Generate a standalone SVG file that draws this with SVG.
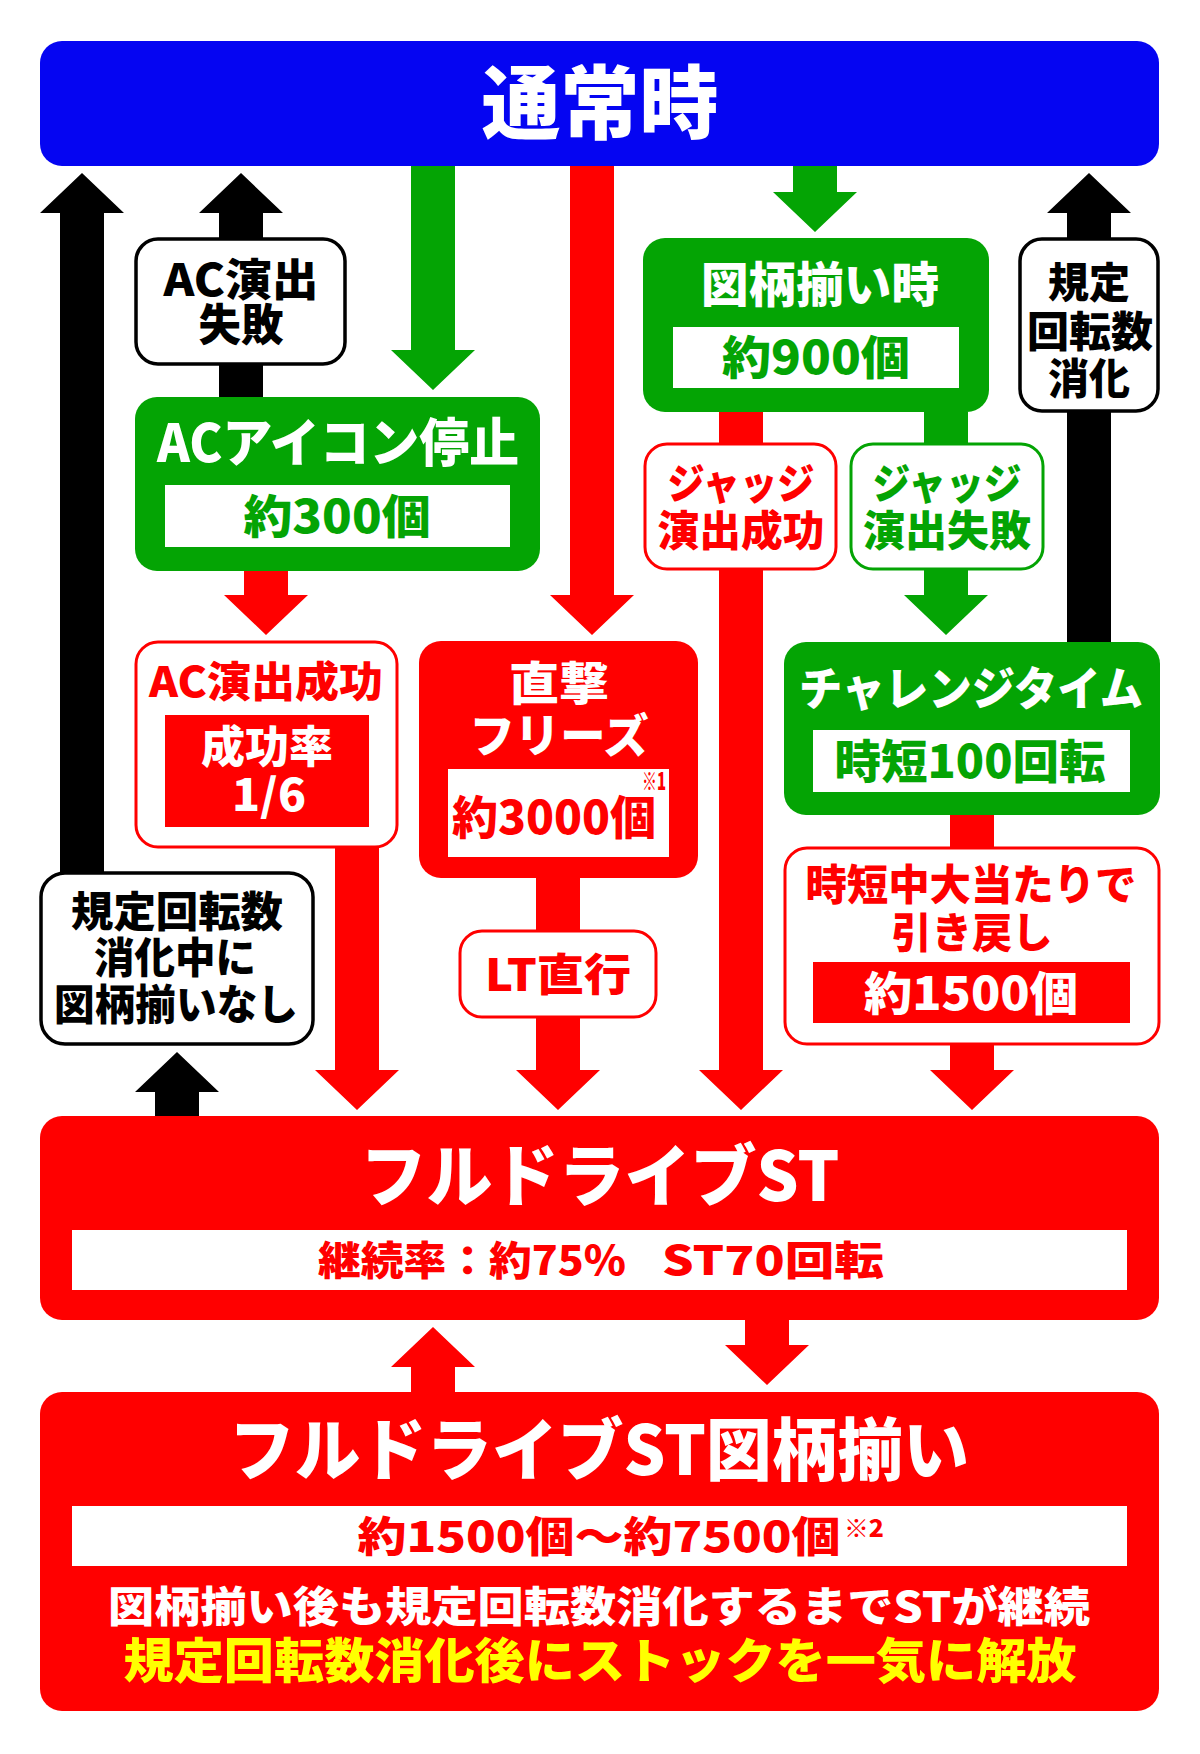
<svg xmlns="http://www.w3.org/2000/svg" width="1200" height="1754" viewBox="0 0 1200 1754">
<style>
text{font-family:"Noto Sans CJK JP","Noto Sans CJK SC",sans-serif;font-weight:900;text-anchor:middle}
.w{fill:#ffffff}.r{fill:#ff0000}.g{fill:#04a404}.k{fill:#000000}.y{fill:#ffff00}
.blue{fill:#0505f2}
.gbox{fill:#04a404}.rbox{fill:#ff0000}
.kout{fill:#ffffff;stroke:#000000;stroke-width:3.5}
.rout{fill:#ffffff;stroke:#ff0000;stroke-width:3}
.gout{fill:#ffffff;stroke:#04a404;stroke-width:3}
.ca{fill:#000000}.cr{fill:#ff0000}.cg{fill:#04a404}
</style>
<rect x="0" y="0" width="1200" height="1754" fill="#ffffff"/>

<g id="connectors">
  <polygon class="ca" points="60,872 104,872 104,213 124,213 82,173 40,213 60,213"/>
  <polygon class="ca" points="219,397 263,397 263,213 283,213 241,173 199,213 219,213"/>
  <polygon class="cg" points="411,166 455,166 455,350 475,350 433,390 391,350 411,350"/>
  <polygon class="cr" points="570,166 614,166 614,595 634,595 592,635 550,595 570,595"/>
  <polygon class="cg" points="793,166 837,166 837,192 857,192 815,232 773,192 793,192"/>
  <polygon class="ca" points="1067,642 1111,642 1111,213 1131,213 1089,173 1047,213 1067,213"/>
  <polygon class="cr" points="244,571 288,571 288,595 308,595 266,635 224,595 244,595"/>
  <polygon class="cr" points="719,412 763,412 763,1070 783,1070 741,1110 699,1070 719,1070"/>
  <polygon class="cg" points="924,412 968,412 968,595 988,595 946,635 904,595 924,595"/>
  <polygon class="cr" points="335,848 379,848 379,1070 399,1070 357,1110 315,1070 335,1070"/>
  <polygon class="cr" points="536,878 580,878 580,1070 600,1070 558,1110 516,1070 536,1070"/>
  <polygon class="cr" points="950,815 994,815 994,1070 1014,1070 972,1110 930,1070 950,1070"/>
  <polygon class="ca" points="155,1116 199,1116 199,1092 219,1092 177,1052 135,1092 155,1092"/>
  <polygon class="cr" points="411,1392 455,1392 455,1367 475,1367 433,1327 391,1367 411,1367"/>
  <polygon class="cr" points="745,1320 789,1320 789,1345 809,1345 767,1385 725,1345 745,1345"/>
</g>

<g id="node-normal">
  <rect class="blue" x="40" y="41" width="1119" height="125" rx="22"/>
  <text class="w" x="600" y="132" font-size="80" textLength="237" lengthAdjust="spacingAndGlyphs">通常時</text>
</g>

<g id="label-ac-fail">
  <rect class="kout" x="136" y="239" width="209" height="125" rx="22"/>
  <text class="k" font-size="44"><tspan x="241" y="296" textLength="155" lengthAdjust="spacingAndGlyphs">AC演出</tspan><tspan x="241" y="341" textLength="85" lengthAdjust="spacingAndGlyphs">失敗</tspan></text>
</g>

<g id="node-ac-icon">
  <rect class="gbox" x="135" y="397" width="405" height="174" rx="22"/>
  <text class="w" x="338" y="462" font-size="52" textLength="362" lengthAdjust="spacingAndGlyphs">ACアイコン停止</text>
  <rect class="w" x="165" y="485" width="345" height="62"/>
  <text class="g" x="337" y="533" font-size="46" textLength="187" lengthAdjust="spacingAndGlyphs">約300個</text>
</g>

<g id="node-ac-success">
  <rect class="rout" x="136" y="642" width="261" height="205" rx="22"/>
  <text class="r" x="266" y="697" font-size="42" textLength="234" lengthAdjust="spacingAndGlyphs">AC演出成功</text>
  <rect class="rbox" x="165" y="715" width="204" height="112"/>
  <text class="w" font-size="44"><tspan x="267" y="763" textLength="132" lengthAdjust="spacingAndGlyphs">成功率</tspan><tspan x="269" y="811" textLength="74" lengthAdjust="spacingAndGlyphs">1/6</tspan></text>
</g>

<g id="node-freeze">
  <rect class="rbox" x="419" y="641" width="279" height="237" rx="22"/>
  <text class="w" font-size="46"><tspan x="559" y="700" textLength="100" lengthAdjust="spacingAndGlyphs">直撃</tspan><tspan x="559" y="752" textLength="179" lengthAdjust="spacingAndGlyphs">フリーズ</tspan></text>
  <rect class="w" x="448" y="769" width="221" height="88"/>
  <text class="r" x="554" y="834" font-size="46" textLength="204" lengthAdjust="spacingAndGlyphs">約3000個</text>
  <text class="r" x="654" y="790" font-size="24" textLength="24" lengthAdjust="spacingAndGlyphs">※1</text>
</g>

<g id="label-lt">
  <rect class="rout" x="460" y="931" width="196" height="86" rx="22"/>
  <text class="r" x="558" y="991" font-size="44" textLength="146" lengthAdjust="spacingAndGlyphs">LT直行</text>
</g>

<g id="node-zugara">
  <rect class="gbox" x="643" y="238" width="346" height="174" rx="22"/>
  <text class="w" x="820" y="302" font-size="48" textLength="238" lengthAdjust="spacingAndGlyphs">図柄揃い時</text>
  <rect class="w" x="673" y="327" width="286" height="61"/>
  <text class="g" x="816" y="374" font-size="46" textLength="188" lengthAdjust="spacingAndGlyphs">約900個</text>
</g>

<g id="label-judge-success">
  <rect class="rout" x="645" y="444" width="191" height="125" rx="22"/>
  <text class="r" font-size="42"><tspan x="741" y="499" textLength="147" lengthAdjust="spacingAndGlyphs">ジャッジ</tspan><tspan x="741" y="546" textLength="167" lengthAdjust="spacingAndGlyphs">演出成功</tspan></text>
</g>

<g id="label-judge-fail">
  <rect class="gout" x="851" y="444" width="192" height="125" rx="22"/>
  <text class="g" font-size="42"><tspan x="947" y="499" textLength="149" lengthAdjust="spacingAndGlyphs">ジャッジ</tspan><tspan x="947" y="546" textLength="168" lengthAdjust="spacingAndGlyphs">演出失敗</tspan></text>
</g>

<g id="label-rotation">
  <rect class="kout" x="1020" y="239" width="138" height="172" rx="22"/>
  <text class="k" font-size="42"><tspan x="1089" y="298" textLength="82" lengthAdjust="spacingAndGlyphs">規定</tspan><tspan x="1090" y="347" textLength="126" lengthAdjust="spacingAndGlyphs">回転数</tspan><tspan x="1089" y="394" textLength="82" lengthAdjust="spacingAndGlyphs">消化</tspan></text>
</g>

<g id="node-challenge">
  <rect class="gbox" x="784" y="642" width="376" height="173" rx="22"/>
  <text class="w" x="971" y="705" font-size="46" textLength="344" lengthAdjust="spacingAndGlyphs">チャレンジタイム</text>
  <rect class="w" x="813" y="730" width="317" height="62"/>
  <text class="g" x="970" y="778" font-size="46" textLength="271" lengthAdjust="spacingAndGlyphs">時短100回転</text>
</g>

<g id="node-hikimodoshi">
  <rect class="rout" x="785" y="848" width="374" height="196" rx="22"/>
  <text class="r" font-size="42"><tspan x="971" y="900" textLength="331" lengthAdjust="spacingAndGlyphs">時短中大当たりで</tspan><tspan x="972" y="948" textLength="161" lengthAdjust="spacingAndGlyphs">引き戻し</tspan></text>
  <rect class="rbox" x="813" y="962" width="317" height="61"/>
  <text class="w" x="971" y="1010" font-size="46" textLength="214" lengthAdjust="spacingAndGlyphs">約1500個</text>
</g>

<g id="label-no-zugara">
  <rect class="kout" x="41" y="873" width="272" height="171" rx="24"/>
  <text class="k" font-size="42"><tspan x="177" y="927" textLength="212" lengthAdjust="spacingAndGlyphs">規定回転数</tspan><tspan x="175" y="973" textLength="162" lengthAdjust="spacingAndGlyphs">消化中に</tspan><tspan x="176" y="1020" textLength="244" lengthAdjust="spacingAndGlyphs">図柄揃いなし</tspan></text>
</g>

<g id="node-st">
  <rect class="rbox" x="40" y="1116" width="1119" height="204" rx="22"/>
  <text class="w" x="600" y="1201" font-size="68" textLength="479" lengthAdjust="spacingAndGlyphs">フルドライブST</text>
  <rect class="w" x="72" y="1230" width="1055" height="60"/>
  <text class="r" font-size="40"><tspan x="472" y="1275" textLength="308" lengthAdjust="spacingAndGlyphs">継続率：約75%</tspan><tspan x="773" y="1275" textLength="222" lengthAdjust="spacingAndGlyphs">ST70回転</tspan></text>
</g>

<g id="node-st-zugara">
  <rect class="rbox" x="40" y="1392" width="1119" height="319" rx="22"/>
  <text class="w" x="599" y="1475" font-size="68" textLength="740" lengthAdjust="spacingAndGlyphs">フルドライブST図柄揃い</text>
  <rect class="w" x="72" y="1506" width="1055" height="60"/>
  <text class="r" x="599" y="1552" font-size="42" textLength="483" lengthAdjust="spacingAndGlyphs">約1500個～約7500個</text>
  <text class="r" x="864" y="1537" font-size="24" textLength="40" lengthAdjust="spacingAndGlyphs">※2</text>
  <text font-size="42"><tspan class="w" x="599" y="1622" textLength="982" lengthAdjust="spacingAndGlyphs">図柄揃い後も規定回転数消化するまでSTが継続</tspan><tspan class="y" x="600" y="1678" font-size="48" textLength="953" lengthAdjust="spacingAndGlyphs">規定回転数消化後にストックを一気に解放</tspan></text>
</g>
</svg>
